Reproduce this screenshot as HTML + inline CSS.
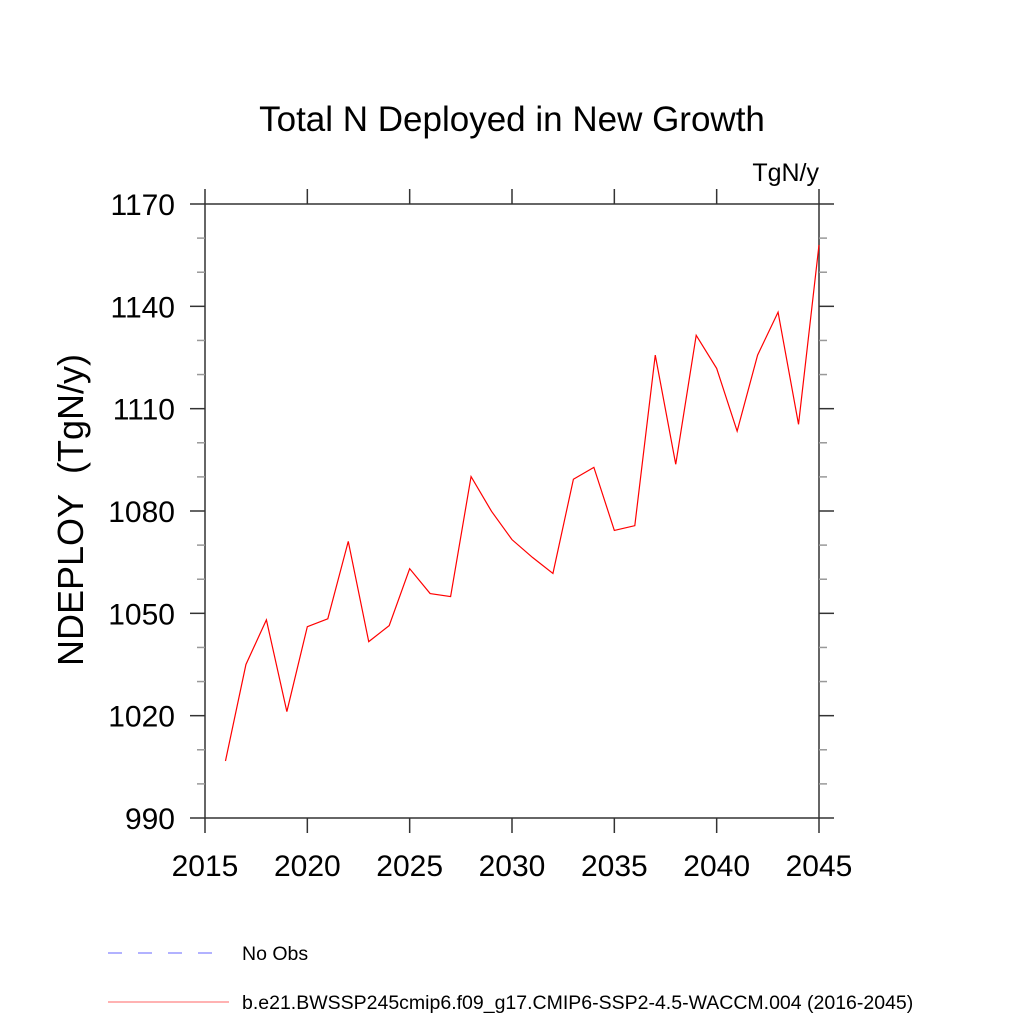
<!DOCTYPE html>
<html><head><meta charset="utf-8"><style>
body{margin:0;background:#fff}
svg text{font-family:"Liberation Sans",sans-serif;fill:#000}
</style></head><body>
<svg width="1024" height="1024" viewBox="0 0 1024 1024">
<text x="512" y="131" font-size="35" text-anchor="middle">Total N Deployed in New Growth</text>
<text x="819" y="181" font-size="25" text-anchor="end">TgN/y</text>
<text transform="translate(83,510) rotate(-90)" font-size="36" text-anchor="middle">NDEPLOY&#160;&#160;(TgN/y)</text>
<g id="axes"></g>
<polyline id="series" fill="none" stroke="#ff0000" stroke-width="1.2"/>
<g>
<line x1="108" y1="953" x2="218" y2="953" stroke="#6666ff" stroke-width="1" stroke-dasharray="14,16"/>
<text x="242" y="960" font-size="19.5">No Obs</text>
<line x1="108" y1="1002" x2="229" y2="1002" stroke="#ff6666" stroke-width="1"/>
<text x="242" y="1009" font-size="19.5">b.e21.BWSSP245cmip6.f09_g17.CMIP6-SSP2-4.5-WACCM.004 (2016-2045)</text>
</g>
</svg>
<script>
const years=[2016,2017,2018,2019,2020,2021,2022,2023,2024,2025,2026,2027,2028,2029,2030,2031,2032,2033,2034,2035,2036,2037,2038,2039,2040,2041,2042,2043,2044,2045];
const values=[1006.7,1035,1048.1,1021.2,1046.1,1048.4,1071.1,1041.7,1046.4,1063.1,1055.8,1054.9,1090.1,1079.9,1071.6,1066.4,1061.7,1089.3,1092.8,1074.3,1075.7,1125.7,1093.7,1131.5,1121.8,1103.4,1125.7,1138.3,1105.4,1158];
const xTicks=[2015,2020,2025,2030,2035,2040,2045];
const yTicks=[990,1020,1050,1080,1110,1140,1170];
const L=205,R=819,T=204,B=818;
const xs=v=>L+(v-2015)/30*(R-L);
const ys=v=>B-(v-990)/180*(B-T);
const NS='http://www.w3.org/2000/svg';
const ax=document.getElementById('axes');
function ln(x1,y1,x2,y2,c,w,name){const e=document.createElementNS(NS,'line');e.setAttribute('x1',x1);e.setAttribute('y1',y1);e.setAttribute('x2',x2);e.setAttribute('y2',y2);e.setAttribute('stroke',c);e.setAttribute('stroke-width',w);


ax.appendChild(e);}
function tx(x,y,s,a,name){const e=document.createElementNS(NS,'text');e.setAttribute('x',x);e.setAttribute('y',y);e.setAttribute('font-size',30);e.setAttribute('text-anchor',a);e.textContent=s;


ax.appendChild(e);}
const rect=document.createElementNS(NS,'rect');
rect.setAttribute('x',L);rect.setAttribute('y',T);rect.setAttribute('width',R-L);rect.setAttribute('height',B-T);rect.setAttribute('fill','none');rect.setAttribute('stroke','#333');rect.setAttribute('stroke-width','1.5');


ax.appendChild(rect);
for(let v=990;v<=1170;v+=10){const y=ys(v);const maj=(v-990)%30===0;const len=maj?15:8;
ln(L-len,y,L,y,maj?'#333':'#999',1.5,'y-tick');ln(R,y,R+len,y,maj?'#333':'#999',1.5,'y-tick-right');}
yTicks.forEach(v=>tx(L-30,ys(v)+11,String(v),'end','y-tick-label'));
xTicks.forEach(v=>{const x=xs(v);ln(x,B,x,B+15,'#333',1.5,'x-tick');ln(x,T-15,x,T,'#333',1.5,'x-tick-top');tx(x,B+58,String(v),'middle','x-tick-label');});
document.getElementById('series').setAttribute('points',years.map((y,i)=>xs(y)+','+ys(values[i])).join(' '));
</script>
</body></html>
